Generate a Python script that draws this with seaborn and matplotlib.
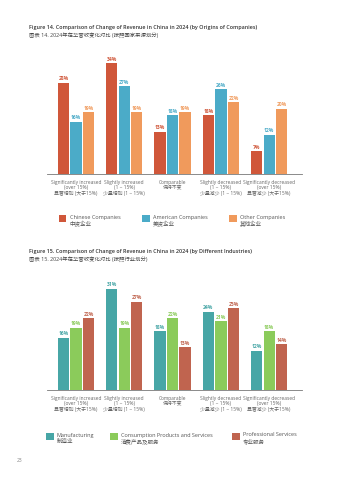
import matplotlib
matplotlib.use("Agg")
import matplotlib.pyplot as plt
from matplotlib.patches import Rectangle
import seaborn as sns
import pandas as pd

sns.set_theme(style="white")
plt.rcParams["font.family"] = ["Open Sans", "Noto Sans CJK SC", "DejaVu Sans"]

# ── Data ─────────────────────────────────────────────────────────────────────
categories = [
    "Significantly increased\n(over 15%)\n显著增加 (大于15%)",
    "Slightly increased\n(1 ~ 15%)\n少量增加 (1 ~ 15%)",
    "Comparable\n保持不变",
    "Slightly decreased\n(1 ~ 15%)\n少量减少 (1 ~ 15%)",
    "Significantly decreased\n(over 15%)\n显著减少 (大于15%)",
]

origins = ["Chinese Companies", "American Companies", "Other Companies"]
origins_cn = ["中资企业", "美资企业", "其他企业"]
chinese = [28, 34, 13, 18, 7]
american = [16, 27, 18, 26, 12]
other = [19, 19, 19, 22, 20]

industries = ["Manufacturing", "Consumption Products and Services", "Professional Services"]
industries_cn = ["制造业", "消费产品及服务", "专业服务"]
manufacturing = [16, 31, 18, 24, 12]
consumption = [19, 19, 22, 21, 18]
professional = [22, 27, 13, 25, 14]

colors14 = ["#D0573A", "#4BABC8", "#F09A5C"]
colors15 = ["#47A6A6", "#8BCB5B", "#C0644F"]

W, H = 359, 480
fig = plt.figure(figsize=(W / 100, H / 100), dpi=100)


def px_axes(left, top, right, bottom):
    return fig.add_axes([left / W, 1 - bottom / H, (right - left) / W, (bottom - top) / H])


def draw_panel(ax, series, names, colors, ymax):
    df = pd.DataFrame({
        "cat": categories * len(series),
        "grp": [n for n in names for _ in categories],
        "val": [v for s in series for v in s],
    })
    sns.barplot(data=df, x="cat", y="val", hue="grp", order=categories,
                hue_order=names, palette=colors, width=0.78, gap=0.1,
                saturation=1, legend=False, linewidth=0, ax=ax)
    for cont, c in zip(ax.containers, colors):
        ax.bar_label(cont, labels=[f"{v:.0f}%" for v in cont.datavalues],
                     fontsize=3.6, color=c, padding=1, fontweight="bold")
    ax.set_xlim(-0.6, 4.68)
    ax.set_ylim(0, ymax)
    ax.set_xlabel("")
    ax.set_ylabel("")
    ax.set_yticks([])
    ax.tick_params(axis="x", length=0, pad=4, labelsize=3.55, labelcolor="#666666")
    for s in ["top", "right", "left"]:
        ax.spines[s].set_visible(False)
    ax.spines["bottom"].set_color("#777777")
    ax.spines["bottom"].set_linewidth(0.6)
    ax.patch.set_alpha(0)


def legend_row(y, xs, names, cns, colors):
    for x, n, cn, c in zip(xs, names, cns, colors):
        fig.add_artist(Rectangle((x / W, 1 - (y + 4) / H), 7.5 / W, 7.5 / H,
                                 transform=fig.transFigure, color=c, lw=0))
        fig.text((x + 11) / W, 1 - (y - 3.5) / H, f"{n}\n{cn}", fontsize=4.0,
                 color="#555555", va="top", ha="left", linespacing=1.25)


# ── Figure 14 ────────────────────────────────────────────────────────────────
fig.text(29 / W, 1 - 28 / H, "Figure 14. Comparison of Change of Revenue in China in 2024 (by Origins of Companies)",
         fontsize=3.85, fontweight="semibold", color="#333333", va="center")
fig.text(29 / W, 1 - 35.5 / H, "图表 14. 2024年在华营收变化对比 (按照国家来源划分)",
         fontsize=3.85, color="#444444", va="center")
ax1 = px_axes(47, 50, 302, 174)
draw_panel(ax1, [chinese, american, other], origins, colors14, 124 / 3.26)
legend_row(218, [59, 142, 229], origins, origins_cn, colors14)

# ── Figure 15 ────────────────────────────────────────────────────────────────
fig.text(29 / W, 1 - 252 / H, "Figure 15. Comparison of Change of Revenue in China in 2024 (by Different Industries)",
         fontsize=3.85, fontweight="semibold", color="#333333", va="center")
fig.text(29 / W, 1 - 259.5 / H, "图表 15. 2024年在华营收变化对比 (按照行业划分)",
         fontsize=3.85, color="#444444", va="center")
ax2 = px_axes(47, 276, 302, 390)
draw_panel(ax2, [manufacturing, consumption, professional], industries, colors15, 114 / 3.27)
legend_row(436, [46, 110, 232], industries, industries_cn, colors15)

fig.text(17 / W, 1 - 461 / H, "23", fontsize=3.5, color="#888888", va="center")

fig.savefig("out.png", dpi=100)
